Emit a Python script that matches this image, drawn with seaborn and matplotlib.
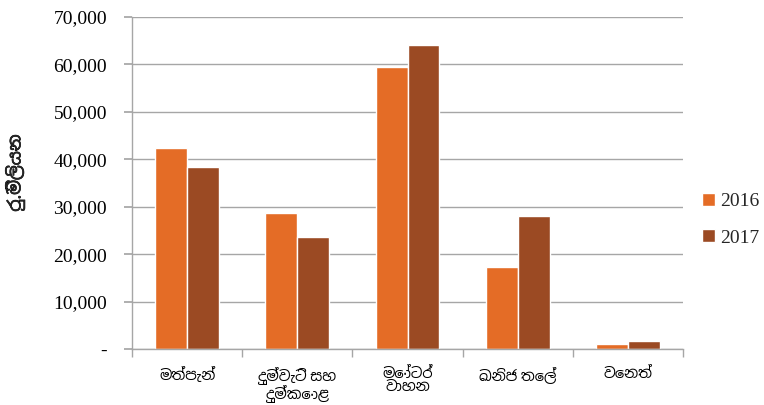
import matplotlib
matplotlib.use("Agg")
import matplotlib.pyplot as plt
from matplotlib import font_manager
from matplotlib import patheffects
from matplotlib.ticker import FuncFormatter
import seaborn as sns
import pandas as pd

categories = ["මත්පැන්", "දුම්වැටි සහ\nදුම්කොළ", "මෝටර්\nවාහන", "ඛනිජ තෙල්", "වෙනත්"]
years = ["2016", "2017"]
values_2016 = [42300, 28600, 59500, 17300, 1000]
values_2017 = [38400, 23700, 64000, 28000, 1700]
y_ticks = [0, 10000, 20000, 30000, 40000, 50000, 60000, 70000]
y_label = "රු.මිලියන"

colors = ["#E46C26", "#9B4A23"]

sns.set_theme(style="white")
sinhala = []
for f in font_manager.fontManager.ttflist:
    if "sinhala" in f.name.lower() and f.name not in sinhala:
        sinhala.append(f.name)
sinhala_sans = [n for n in sinhala if "serif" not in n.lower()]
serif_fams = ["Liberation Serif"] + sinhala + ["DejaVu Serif"]
label_fams = sinhala_sans + sinhala + ["DejaVu Sans"]
plt.rcParams["font.family"] = serif_fams

df = pd.DataFrame({
    "cat": categories * 2,
    "year": [years[0]] * len(categories) + [years[1]] * len(categories),
    "val": values_2016 + values_2017,
})

fig = plt.figure(figsize=(7.64, 4.05), dpi=100)
ax = fig.add_axes([0.1728, 0.138, 0.7212, 0.82])
sns.barplot(data=df, x="cat", y="val", hue="year", palette=colors, ax=ax,
            width=0.58, saturation=1, errorbar=None)

ax.set_ylim(0, 70000)
ax.set_xlim(-0.5, len(categories) - 0.5)
ax.set_yticks(y_ticks)
ax.yaxis.set_major_formatter(FuncFormatter(lambda v, p: "-" if v == 0 else f"{int(v):,}"))
ax.grid(axis="y", color="#A6A6A6", linewidth=1)
ax.set_axisbelow(True)
for s in ["top", "right"]:
    ax.spines[s].set_visible(False)
for s in ["left", "bottom"]:
    ax.spines[s].set_color("#A6A6A6")
    ax.spines[s].set_linewidth(1)

ax.tick_params(axis="y", which="major", left=True, length=6, color="#A6A6A6",
               labelsize=14, pad=12, labelcolor="#000000")
ax.set_xticks(range(len(categories)))
ax.set_xticklabels(categories, fontsize=10.5, color="#000000", linespacing=1.0)
ax.tick_params(axis="x", which="major", bottom=False, pad=7)
ax.set_xticks([i + 0.5 for i in range(-1, len(categories))], minor=True)
ax.tick_params(axis="x", which="minor", bottom=True, length=6, color="#A6A6A6")

ax.set_xlabel("")
ylab = ax.set_ylabel(y_label, fontsize=12.5, fontweight="bold", family=label_fams)
ylab.set_path_effects([patheffects.withStroke(linewidth=0.45, foreground="black")])
ax.yaxis.set_label_coords(-0.195, 0.53)

handles, labels = ax.get_legend_handles_labels()
ax.legend(handles, labels, loc="center left", bbox_to_anchor=(1.01, 0.39),
          frameon=False, fontsize=14, handlelength=0.65, handleheight=0.65,
          labelspacing=1.0, handletextpad=0.3, borderpad=0.2)

fig.savefig("out.png", dpi=100)
